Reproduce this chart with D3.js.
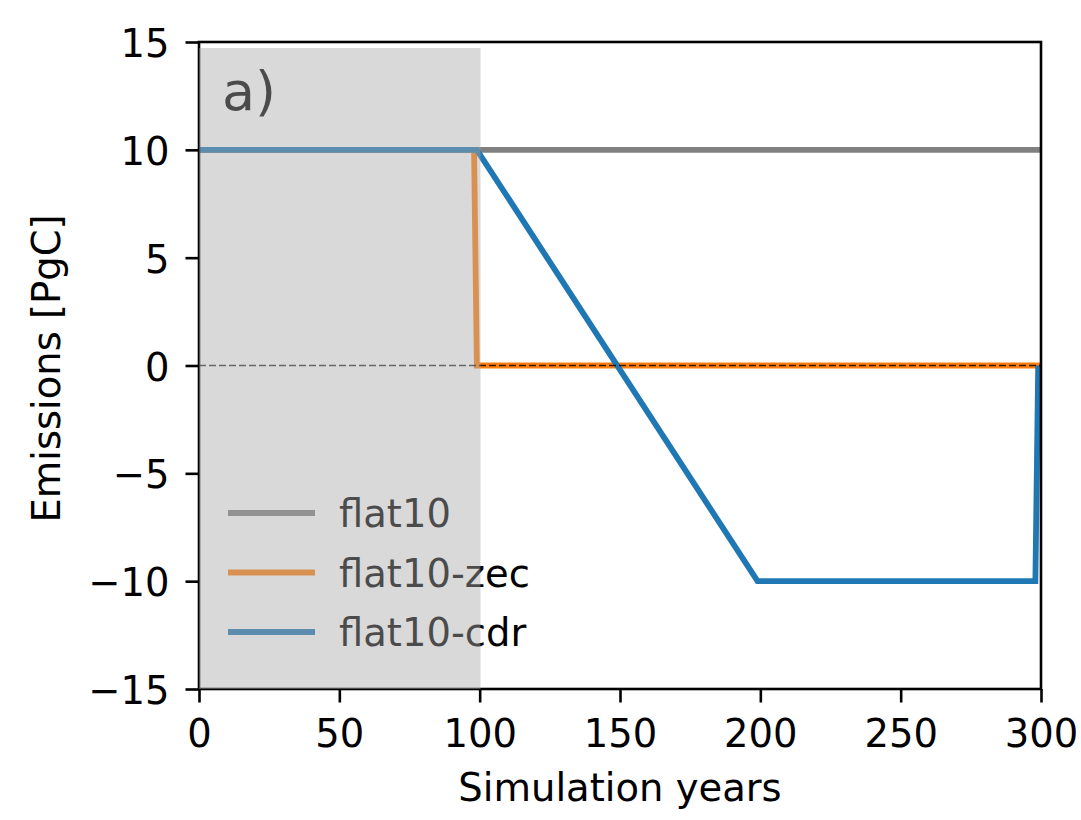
<!DOCTYPE html>
<html>
<head>
<meta charset="utf-8">
<script src="https://cdn.jsdelivr.net/npm/d3@7"></script>
<style>
  html, body { margin: 0; padding: 0; background: #fff; }
  svg { display: block; }
  text { font-family: "DejaVu Sans", sans-serif; }
</style>
</head>
<body>
<svg id="chart" width="1081" height="820"></svg>
<script>
// ---- data ----
const xTicks = [0, 50, 100, 150, 200, 250, 300];
const yTicks = [-15, -10, -5, 0, 5, 10, 15];
const seriesNames = ["flat10", "flat10-zec", "flat10-cdr"];
const seriesColors = ["#808080", "#ff7f0e", "#1f77b4"];
const flat10X = [0, 300];
const flat10Y = [10, 10];
const zecX = [0, 98, 99, 300];
const zecY = [10, 10, 0, 0];
const cdrX = [0, 99, 199, 298, 299];
const cdrY = [10, 10, -10, -10, 0];
const zeroLineX = [0, 300];
const zeroLineY = [0, 0];
const shadeX = [0, 100.3];
const shadeY = [-15, 14.72];
const panelLabel = "a)";
const xLabel = "Simulation years";
const yLabel = "Emissions [PgC]";

// ---- layout ----
const L = 199, R = 1041, T = 42, B = 689;
const FS = 38.5;
const svg = d3.select("#chart");
const x = d3.scaleLinear().domain([0, 300]).range([L, R]);
const y = d3.scaleLinear().domain([-15, 15]).range([B, T]);
const fmt = v => (v < 0 ? "\u2212" + Math.abs(v) : String(v));

const line = d3.line().x(d => x(d[0])).y(d => y(d[1]));
const zip = (a, b) => a.map((v, i) => [v, b[i]]);

const series = [zip(flat10X, flat10Y), zip(zecX, zecY), zip(cdrX, cdrY)];
const plot = svg.append("g");
series.forEach((s, i) => {
  plot.append("path").datum(s).attr("d", line)
    .attr("fill", "none").attr("stroke", seriesColors[i])
    .attr("stroke-width", 5.8).attr("stroke-linejoin", "miter");
});
plot.append("path").datum(zip(zeroLineX, zeroLineY)).attr("d", line)
  .attr("fill", "none").attr("stroke", "#000").attr("stroke-opacity", 0.8)
  .attr("stroke-width", 1.6).attr("stroke-dasharray", "7,3");

// legend
const legend = svg.append("g");
seriesNames.forEach((n, i) => {
  const yy = 513 + i * 59.5;
  legend.append("line").attr("x1", 228).attr("x2", 315).attr("y1", yy).attr("y2", yy)
    .attr("stroke", seriesColors[i]).attr("stroke-width", 5.8);
  legend.append("text").attr("x", 339).attr("y", yy + 14).attr("font-size", FS)
    .attr("fill", "#000").text(n);
});

// panel label
svg.append("text").attr("x", 222).attr("y", 110).attr("font-size", 54)
  .attr("fill", "#000").text(panelLabel);

// axes
const xAxis = svg.append("g").attr("transform", `translate(0,${B})`)
  .call(d3.axisBottom(x).tickValues(xTicks).tickFormat(fmt).tickSize(13.5).tickPadding(13.5));
xAxis.selectAll("text").attr("y", 58).attr("dy", 0);
const yAxis = svg.append("g").attr("transform", `translate(${L},0)`)
  .call(d3.axisLeft(y).tickValues(yTicks).tickFormat(fmt).tickSize(13.5).tickPadding(16));
yAxis.selectAll("text").attr("dy", "0.38em");
[xAxis, yAxis].forEach(a => {
  a.select(".domain").remove();
  a.selectAll("line").attr("stroke", "#000").attr("stroke-width", 2.6);
  a.selectAll("text").attr("font-size", FS).attr("fill", "#000")
    .attr("font-family", "DejaVu Sans, sans-serif");
});

// frame
svg.append("rect").attr("x", L).attr("y", T).attr("width", R - L).attr("height", B - T)
  .attr("fill", "none").attr("stroke", "#000").attr("stroke-width", 2.6);

// shaded overlay on top
svg.append("rect")
  .attr("x", x(shadeX[0])).attr("width", x(shadeX[1]) - x(shadeX[0]))
  .attr("y", y(shadeY[1])).attr("height", y(shadeY[0]) - y(shadeY[1]))
  .attr("fill", "#a9a9a9").attr("fill-opacity", 0.443);

// axis labels
svg.append("text").attr("x", (L + R) / 2).attr("y", 801).attr("text-anchor", "middle")
  .attr("font-size", FS).attr("fill", "#000").text(xLabel);
svg.append("text").attr("transform", `translate(60,${(T + B) / 2 + 3}) rotate(-90)`)
  .attr("text-anchor", "middle").attr("font-size", FS).attr("fill", "#000").text(yLabel);
</script>
</body>
</html>
